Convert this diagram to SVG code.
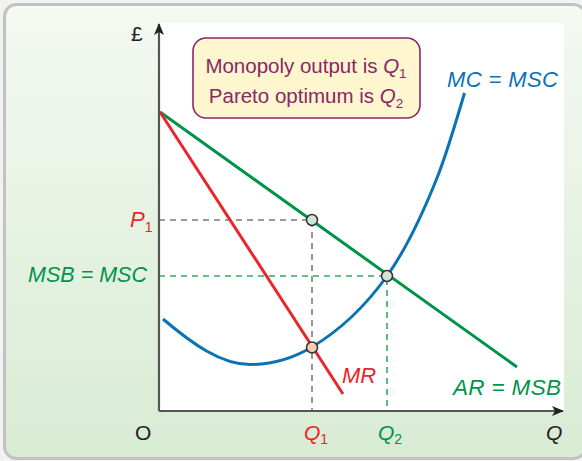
<svg xmlns="http://www.w3.org/2000/svg" width="582" height="461" viewBox="0 0 582 461">
<defs>
<linearGradient id="bg" x1="0" y1="0" x2="0" y2="1">
<stop offset="0" stop-color="#f4f9f2"/>
<stop offset="1" stop-color="#d8ebd3"/>
</linearGradient>
<marker id="arr" viewBox="0 0 12 10" refX="11" refY="5" markerWidth="12" markerHeight="10" markerUnits="userSpaceOnUse" orient="auto">
<path d="M0,0 L12,5 L0,10 L3,5 Z" fill="#222"/>
</marker>
</defs>
<style>
.t{font-family:"Liberation Sans",Arial,sans-serif;}
.it{font-style:italic;}
.red{fill:#e8262b;}
.grn{fill:#00944a;}
.blu{fill:#0a73b5;}
.dk{fill:#222;}
.pur{fill:#8b2766;}
.pt{stroke:#333;stroke-width:1.5;}
</style>
<rect x="0" y="0" width="582" height="461" fill="#f2f2f2"/>
<rect x="4.5" y="4.5" width="581" height="454" rx="12" fill="url(#bg)" stroke="#c2c2c2" stroke-width="3"/>
<rect x="159" y="23" width="405" height="388" fill="#ffffff"/>

<g id="guides" fill="none" stroke-width="1.6" stroke-dasharray="6,5">
<path d="M159,220 H312 V411" stroke="#7a7a7a"/>
<path d="M159,276 H387 V411" stroke="#2fae5f"/>
</g>

<g id="connectors" fill="none" stroke-width="3">
<path id="mc" d="M163,319 C192,343.6 221,364.5 250,364.5 C270.7,364.5 291.3,359.4 312,347 C337,332 362,311 387,276 C403.7,252.7 420.3,219.7 437,178 C446,155.5 455,125.4 464.5,93" stroke="#0a73b5"/>
<path id="ar" d="M160,112 L517,367" stroke="#00944a"/>
<path id="mr" d="M160,112 L343,394" stroke="#e8262b"/>
</g>

<g id="axes" fill="none" stroke="#555" stroke-width="2.2">
<path d="M159,411 V24" marker-end="url(#arr)"/>
<path d="M159,411 H563" marker-end="url(#arr)"/>
</g>

<g id="points">
<circle cx="312" cy="220" r="5.5" fill="#cfe6d4" class="pt"/>
<circle cx="387" cy="276" r="5.5" fill="#cfe6d4" class="pt"/>
<circle cx="312" cy="347.5" r="5.5" fill="#f8cdb3" class="pt"/>
</g>

<g id="note">
<rect x="193" y="38" width="227" height="80" rx="13" fill="#fdf6cf" stroke="#8b2766" stroke-width="1.6"/>
<text class="t pur" x="306" y="73" font-size="20.5" text-anchor="middle">Monopoly output is <tspan class="it">Q</tspan><tspan font-size="13.5" dy="5">1</tspan></text>
<text class="t pur" x="306" y="103" font-size="20.5" text-anchor="middle">Pareto optimum is <tspan class="it">Q</tspan><tspan font-size="13.5" dy="5">2</tspan></text>
</g>

<g id="labels">
<text class="t dk" x="131" y="41" font-size="21">£</text>
<text class="t it blu" x="447" y="87" font-size="22" textLength="111" lengthAdjust="spacing">MC = MSC</text>
<text class="t it red" x="342" y="383" font-size="22">MR</text>
<text class="t it grn" x="453" y="395" font-size="22.5" textLength="108" lengthAdjust="spacing">AR = MSB</text>
<text class="t it red" x="130" y="227" font-size="22">P<tspan font-size="14" font-style="normal" dy="5">1</tspan></text>
<text class="t it grn" x="28" y="282" font-size="21.5" textLength="119" lengthAdjust="spacing">MSB = MSC</text>
<text class="t dk" x="135" y="440" font-size="21">O</text>
<text class="t it red" x="304" y="440" font-size="21">Q<tspan font-size="14" font-style="normal" dy="4">1</tspan></text>
<text class="t it grn" x="378" y="440" font-size="21">Q<tspan font-size="14" font-style="normal" dy="4">2</tspan></text>
<text class="t it dk" x="546" y="440" font-size="21">Q</text>
</g>
</svg>
